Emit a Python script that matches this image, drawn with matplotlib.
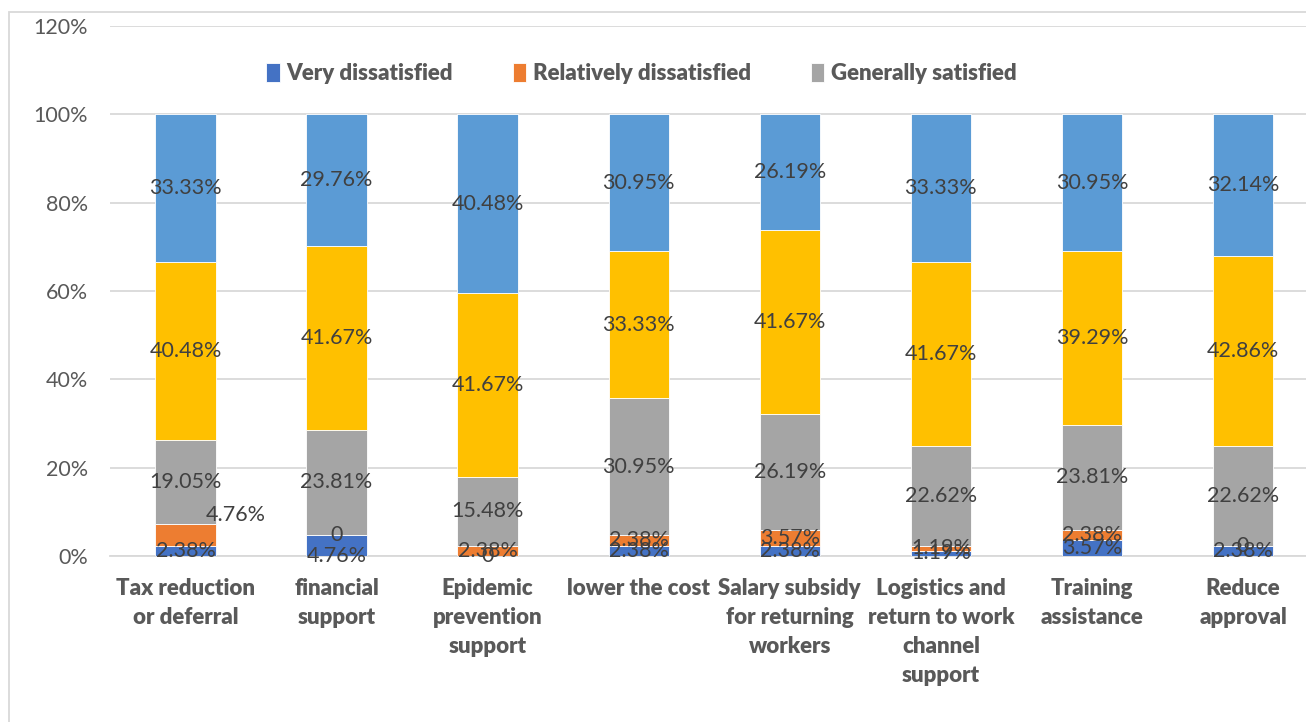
import numpy as np
import matplotlib.pyplot as plt
from matplotlib.patches import Rectangle

plt.rcParams['font.family'] = ['Lato', 'DejaVu Sans']

categories = ["Tax reduction\nor deferral", "financial\nsupport",
              "Epidemic\nprevention\nsupport", "lower the cost",
              "Salary subsidy\nfor returning\nworkers",
              "Logistics and\nreturn to work\nchannel\nsupport",
              "Training\nassistance", "Reduce\napproval"]

very_dissatisfied = [2.38, 4.76, 0, 2.38, 2.38, 1.19, 3.57, 2.38]
relatively_dissatisfied = [4.76, 0, 2.38, 2.38, 3.57, 1.19, 2.38, 0]
generally_satisfied = [19.05, 23.81, 15.48, 30.95, 26.19, 22.62, 23.81, 22.62]
relatively_satisfied = [40.48, 41.67, 41.67, 33.33, 41.67, 41.67, 39.29, 42.86]
very_satisfied = [33.33, 29.76, 40.48, 30.95, 26.19, 33.33, 30.95, 32.14]

series = [
    ("Very dissatisfied", very_dissatisfied, "#4472C4"),
    ("Relatively dissatisfied", relatively_dissatisfied, "#ED7D31"),
    ("Generally satisfied", generally_satisfied, "#A5A5A5"),
    (None, relatively_satisfied, "#FFC000"),
    (None, very_satisfied, "#5B9BD5"),
]

# a few labels sit away from their segment centre (pixel offsets)
label_offsets = {(1, 0): (50, 20), (0, 1): (0, -10)}

fig = plt.figure(figsize=(13.06, 7.22), dpi=100)
ax = fig.add_axes([0.0842, 0.2299, 0.9254, 0.734])

x = np.arange(len(categories))
bottom = np.zeros(len(categories))
text_col = "#404040"
for si, (name, vals, col) in enumerate(series):
    vals = np.array(vals)
    ax.bar(x, vals, 0.4, bottom=bottom, color=col, label=name,
           edgecolor="white", linewidth=0.6, zorder=3)
    for ci, v in enumerate(vals):
        lbl = "0" if v == 0 else f"{v:.2f}%"
        dx, dy = label_offsets.get((si, ci), (0, 0))
        ax.annotate(lbl, (x[ci], bottom[ci] + v / 2), xytext=(dx, dy),
                    textcoords="offset pixels", ha="center", va="center",
                    fontsize=15.5, color=text_col, zorder=4)
    bottom += vals

ax.set_xlim(-0.5, len(categories) - 0.5)
ax.set_ylim(0, 120)
ax.set_yticks(np.arange(0, 121, 20))
ax.set_yticklabels([f"{v}%" for v in range(0, 121, 20)])
ax.set_xticks(x)
ax.set_xticklabels(categories, fontweight="heavy", linespacing=1.47)
ax.tick_params(axis="y", length=0, pad=16, labelsize=15.5, labelcolor="#595959")
ax.tick_params(axis="x", length=0, pad=16, labelsize=16, labelcolor="#595959")

ax.grid(axis="y", color="#D9D9D9", linewidth=1.3, zorder=0)
for s in ["left", "right", "top"]:
    ax.spines[s].set_visible(False)
ax.spines["bottom"].set_color("#D9D9D9")
ax.spines["bottom"].set_linewidth(1.3)
ax.spines["bottom"].set_zorder(2)

handles, labels = ax.get_legend_handles_labels()
leg = ax.legend(handles[:3], labels[:3], loc="center", ncol=3,
                bbox_to_anchor=(0.491, 0.898), bbox_transform=fig.transFigure,
                frameon=False, handlelength=0.6, handleheight=0.9,
                handletextpad=0.3, columnspacing=2.7,
                prop={"weight": "heavy", "size": 16})
for t in leg.get_texts():
    t.set_color("#595959")

# chart frame
fig.patches.append(Rectangle((9 / 1306, -0.1), 1.2, 0.1 + 1 - 12 / 722,
                             transform=fig.transFigure, fill=False,
                             edgecolor="#D9D9D9", linewidth=1.3))

fig.savefig("out.png", dpi=100)
